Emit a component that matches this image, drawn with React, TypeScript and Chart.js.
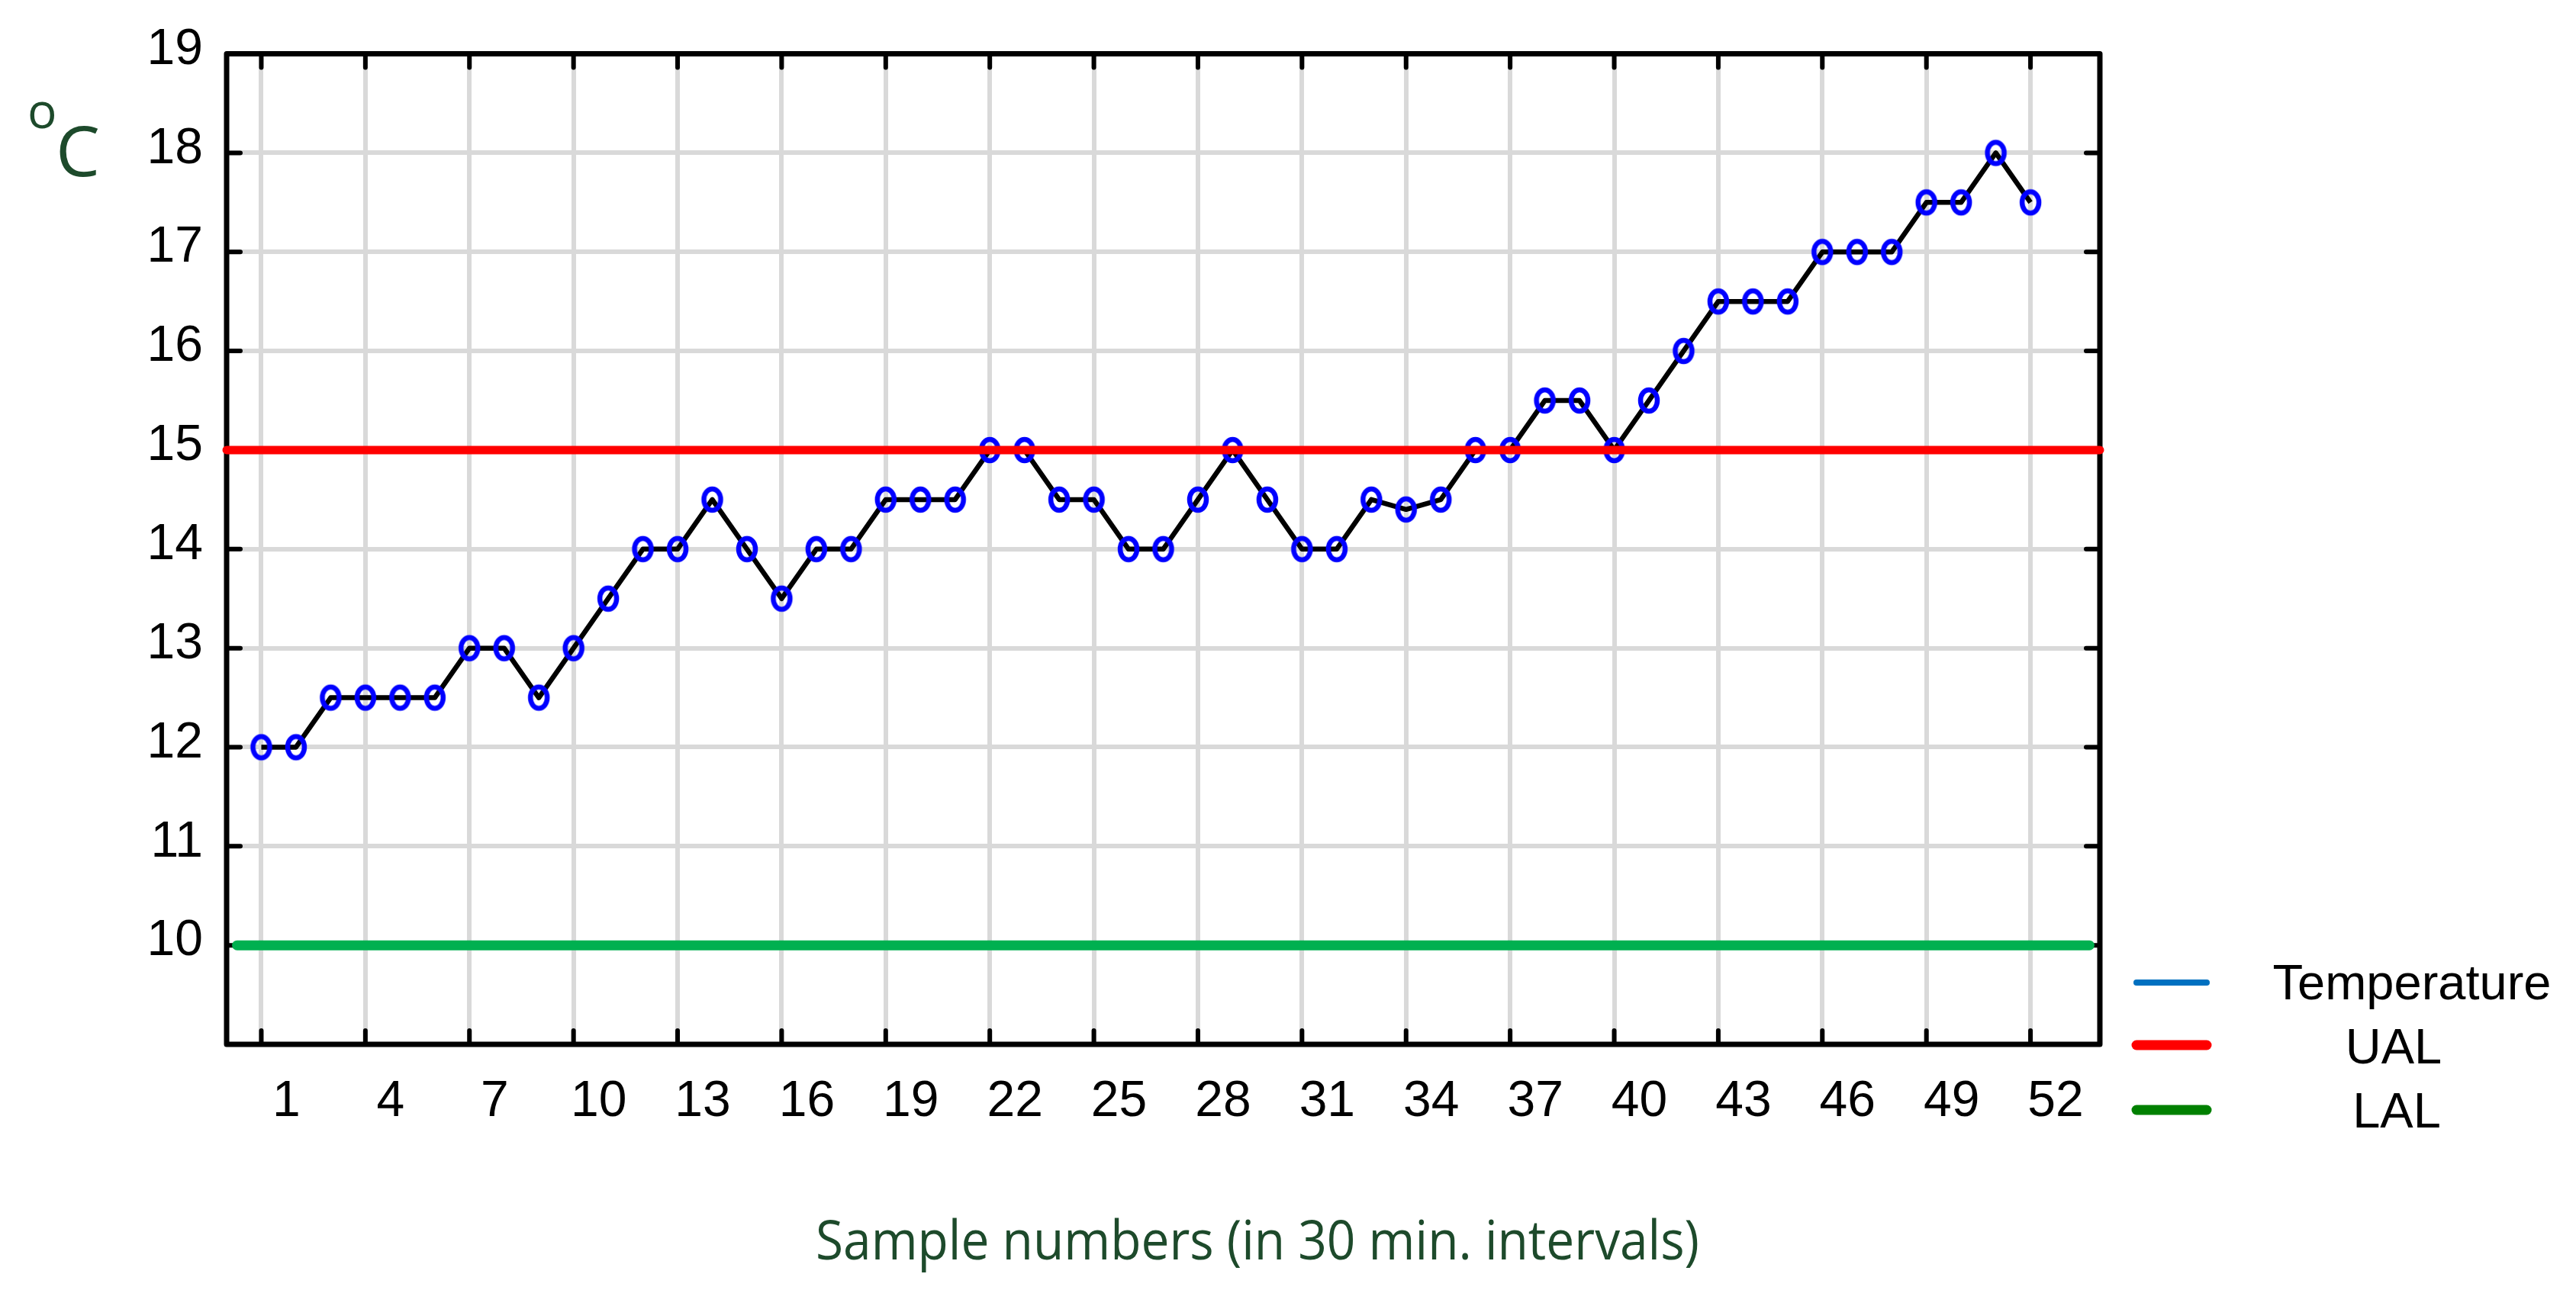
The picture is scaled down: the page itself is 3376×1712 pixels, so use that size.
import React, { useEffect, useRef } from 'react';
import { Chart, registerables } from 'chart.js';

Chart.register(...registerables);

// ---------- data ----------
const sampleNumbers: number[] = Array.from({ length: 52 }, (_, i) => i + 1);
const temperature: number[] = [
  12, 12, 12.5, 12.5, 12.5, 12.5, 13, 13, 12.5, 13,
  13.5, 14, 14, 14.5, 14, 13.5, 14, 14, 14.5, 14.5,
  14.5, 15, 15, 14.5, 14.5, 14, 14, 14.5, 15, 14.5,
  14, 14, 14.5, 14.4, 14.5, 15, 15, 15.5, 15.5, 15,
  15.5, 16, 16.5, 16.5, 16.5, 17, 17, 17, 17.5, 17.5,
  18, 17.5,
];
const xTickValues: number[] = [1, 4, 7, 10, 13, 16, 19, 22, 25, 28, 31, 34, 37, 40, 43, 46, 49, 52];
const yTickValues: number[] = [9, 10, 11, 12, 13, 14, 15, 16, 17, 18, 19];
const yTickLabels: string[] = ['', '10', '11', '12', '13', '14', '15', '16', '17', '18', '19'];
const xMin = 0;
const xMax = 54;
const yMin = 9;
const yMax = 19;
const ualValue = 15;
const ualSpan: number[] = [0, 54];
const lalValue = 10;
const lalSpan: number[] = [0.3, 53.7];
const legendLabels: string[] = ['Temperature', 'UAL', 'LAL'];
const xTitle = 'Sample numbers (in 30 min. intervals)';
const yTitleSup = 'o';
const yTitleMain = 'C';

// ---------- layout / style ----------
const W = 3376;
const H = 1712;
const AREA = { left: 297, top: 47, right: 2752, bottom: 1369 };
const TICK_FONT = '"Liberation Sans", Arial, sans-serif';
const TITLE_FONT = '"Open Sans", "Noto Sans", sans-serif';
const TITLE_COLOR = '#1d4a2b';
const GRID_COLOR = '#d9d9d9';

function makeMarker(): HTMLCanvasElement {
  const c = document.createElement('canvas');
  c.width = 38;
  c.height = 44;
  const g = c.getContext('2d') as CanvasRenderingContext2D;
  g.strokeStyle = '#0000ff';
  g.lineWidth = 6.5;
  g.beginPath();
  g.ellipse(19, 22, 11, 14, 0, 0, Math.PI * 2);
  g.stroke();
  return c;
}

const decorPlugin = {
  id: 'decor',
  beforeDatasetsDraw(chart: any) {
    const { ctx, chartArea, scales } = chart;
    const { left, right, top, bottom } = chartArea;
    ctx.save();
    ctx.strokeStyle = '#000';
    ctx.lineCap = 'round';
    ctx.lineJoin = 'round';
    // inward tick marks
    ctx.lineWidth = 6;
    const tl = 18;
    ctx.beginPath();
    xTickValues.forEach((v) => {
      const px = scales.x.getPixelForValue(v);
      ctx.moveTo(px, bottom);
      ctx.lineTo(px, bottom - tl);
      ctx.moveTo(px, top);
      ctx.lineTo(px, top + tl);
    });
    yTickValues.forEach((v) => {
      if (v === yMin || v === yMax) return;
      const py = scales.y.getPixelForValue(v);
      ctx.moveTo(left, py);
      ctx.lineTo(left + tl, py);
      ctx.moveTo(right, py);
      ctx.lineTo(right - tl, py);
    });
    ctx.stroke();
    // frame
    ctx.lineWidth = 7;
    ctx.strokeRect(left, top, right - left, bottom - top);
    ctx.restore();
  },
  afterDraw(chart: any) {
    const { ctx } = chart;
    ctx.save();
    // y title: superscript o + C
    ctx.fillStyle = TITLE_COLOR;
    ctx.textAlign = 'left';
    ctx.textBaseline = 'alphabetic';
    ctx.font = `64px ${TITLE_FONT}`;
    ctx.fillText(yTitleSup, 36, 168);
    ctx.font = `92px ${TITLE_FONT}`;
    ctx.fillText(yTitleMain, 73, 231);

    // x title, condensed to the reference width
    ctx.font = `72px ${TITLE_FONT}`;
    const wNat = ctx.measureText(xTitle).width;
    const targetW = 1158;
    const cx = 1648;
    ctx.translate(cx, 1651);
    ctx.scale(targetW / wNat, 1);
    ctx.textAlign = 'center';
    ctx.fillText(xTitle, 0, 0);
    ctx.setTransform(1, 0, 0, 1, 0, 0);

    // legend
    const legendColors = ['#0070c0', '#ff0000', '#008000'];
    const legendWidths = [8, 13, 13];
    const legendY = [1288, 1370, 1455];
    const legendTextX = [3161, 3137, 3141];
    const legendBase = [1310, 1394, 1478];
    ctx.lineCap = 'round';
    legendLabels.forEach((lab, i) => {
      ctx.strokeStyle = legendColors[i];
      ctx.lineWidth = legendWidths[i];
      ctx.beginPath();
      ctx.moveTo(2800, legendY[i]);
      ctx.lineTo(2892, legendY[i]);
      ctx.stroke();
      ctx.fillStyle = '#000';
      ctx.font = `65px ${TICK_FONT}`;
      ctx.textAlign = 'center';
      ctx.textBaseline = 'alphabetic';
      ctx.fillText(lab, legendTextX[i], legendBase[i]);
    });
    ctx.restore();
  },
};

export default function App() {
  const canvasRef = useRef<HTMLCanvasElement | null>(null);

  useEffect(() => {
    document.body.style.margin = '0';
    const canvas = canvasRef.current;
    if (!canvas) return;
    const marker = makeMarker();
    const chart = new Chart(canvas, {
      type: 'line',
      data: {
        datasets: [
          {
            label: 'UAL',
            data: ualSpan.map((x) => ({ x, y: ualValue })),
            borderColor: '#ff0000',
            borderWidth: 11,
            borderCapStyle: 'round',
            pointRadius: 0,
            clip: false,
            order: 0,
          },
          {
            label: 'LAL',
            data: lalSpan.map((x) => ({ x, y: lalValue })),
            borderColor: '#00b050',
            borderWidth: 13,
            borderCapStyle: 'round',
            pointRadius: 0,
            clip: false,
            order: 1,
          },
          {
            label: 'Temperature',
            data: sampleNumbers.map((x, i) => ({ x, y: temperature[i] })),
            borderColor: '#000000',
            borderWidth: 6.5,
            borderJoinStyle: 'round',
            pointStyle: marker,
            pointRadius: 14,
            tension: 0,
            order: 2,
          },
        ],
      } as any,
      options: {
        responsive: false,
        animation: false,
        devicePixelRatio: 1,
        events: [],
        layout: {
          padding: { left: 0, top: AREA.top, right: W - AREA.right, bottom: 0 },
        },
        plugins: {
          legend: { display: false },
          tooltip: { enabled: false },
        },
        scales: {
          x: {
            type: 'linear',
            min: xMin,
            max: xMax,
            afterBuildTicks: (s: any) => {
              s.ticks = xTickValues.map((v) => ({ value: v }));
            },
            afterFit: (s: any) => {
              s.height = H - AREA.bottom;
            },
            grid: { color: GRID_COLOR, lineWidth: 6, drawTicks: false },
            border: { display: false },
            ticks: {
              autoSkip: false,
              maxRotation: 0,
              minRotation: 0,
              padding: 36,
              labelOffset: 33,
              color: '#000',
              font: { family: TICK_FONT, size: 66 },
              callback: (v: any) => String(v),
            },
          },
          y: {
            type: 'linear',
            min: yMin,
            max: yMax,
            afterBuildTicks: (s: any) => {
              s.ticks = yTickValues.map((v) => ({ value: v }));
            },
            afterFit: (s: any) => {
              s.width = AREA.left;
            },
            grid: { color: GRID_COLOR, lineWidth: 6, drawTicks: false },
            border: { display: false },
            ticks: {
              padding: 31,
              labelOffset: -5,
              color: '#000',
              font: { family: TICK_FONT, size: 66 },
              callback: (_v: any, i: number) => yTickLabels[i],
            },
          },
        },
      } as any,
      plugins: [decorPlugin],
    });
    return () => chart.destroy();
  }, []);

  return (
    <div style={{ position: 'fixed', left: 0, top: 0, width: W, height: H, background: '#fff' }}>
      <canvas ref={canvasRef} width={W} height={H} style={{ display: 'block', width: W, height: H }} />
    </div>
  );
}
